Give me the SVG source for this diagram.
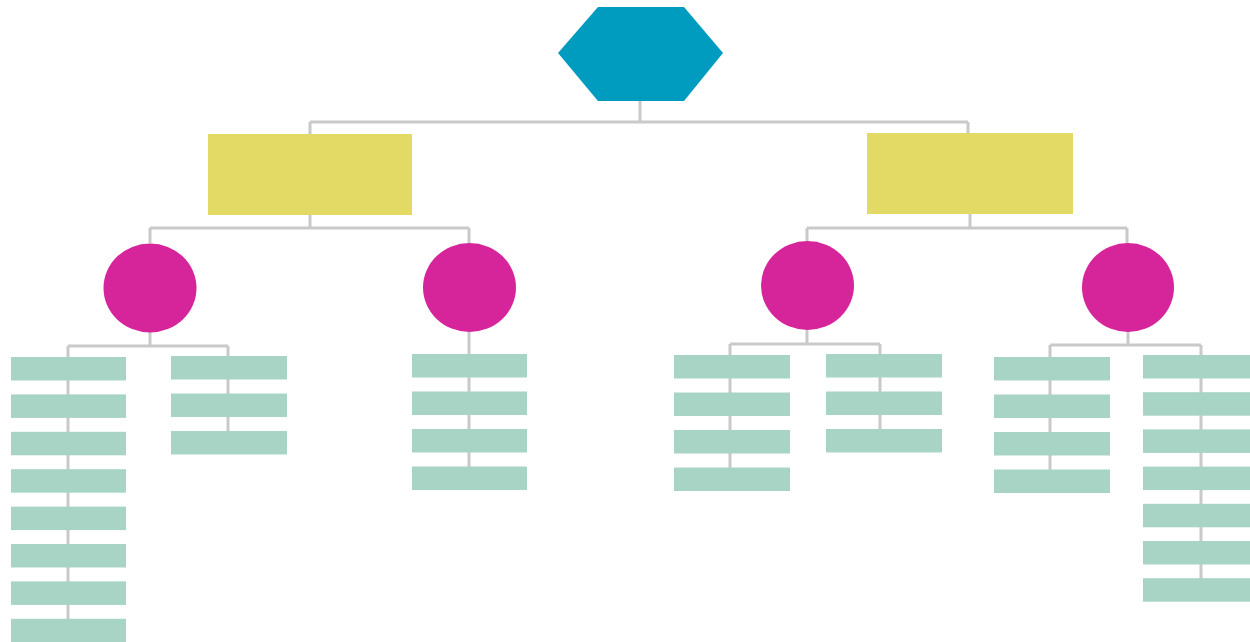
<svg xmlns="http://www.w3.org/2000/svg" width="1250" height="642" viewBox="0 0 1250 642">
<style>
.c{fill:none;stroke:#c9c9c9;stroke-width:3}
.hex{fill:#009cbf}
.y{fill:#e3da66}
.m{fill:#d6249b}
.t{fill:#a8d4c6}
</style>
<rect width="1250" height="642" fill="#ffffff"/>
<g id="connectors" class="c">
<path d="M640 101V122M310 122H968M310 122V134M968 122V134"/>
<path d="M310 215V228M150 228H469M150 228V243M469 228V243"/>
<path d="M970 214V228M807 228H1127M807 228V241M1127 228V243"/>
<path d="M150 332V346M68 346H228M68 346V620M228 346V432"/>
<path d="M469 332V467"/>
<path d="M807 330V344M730 344H880M730 344V468M880 344V430"/>
<path d="M1128 332V345M1050 345H1201M1050 345V470M1201 345V579"/>
</g>
<g id="root"><polygon class="hex" points="598,7 684,7 723,53 684,101 598,101 558,53"/></g>
<g id="branch-left"><rect class="y" x="208" y="134" width="204" height="81"/></g>
<g id="branch-right"><rect class="y" x="867" y="133" width="206" height="81"/></g>
<g id="circle-1"><ellipse class="m" cx="150" cy="288" rx="46.5" ry="44.5"/></g>
<g id="circle-2"><ellipse class="m" cx="469.5" cy="287.5" rx="46.5" ry="44.5"/></g>
<g id="circle-3"><ellipse class="m" cx="807.5" cy="285.5" rx="46.5" ry="44.5"/></g>
<g id="circle-4"><ellipse class="m" cx="1128" cy="287.5" rx="46" ry="44.5"/></g>
<g id="leaf-1a-1"><rect class="t" x="11" y="357" width="115" height="23.5"/></g>
<g id="leaf-1a-2"><rect class="t" x="11" y="394.4" width="115" height="23.5"/></g>
<g id="leaf-1a-3"><rect class="t" x="11" y="431.8" width="115" height="23.5"/></g>
<g id="leaf-1a-4"><rect class="t" x="11" y="469.2" width="115" height="23.5"/></g>
<g id="leaf-1a-5"><rect class="t" x="11" y="506.6" width="115" height="23.5"/></g>
<g id="leaf-1a-6"><rect class="t" x="11" y="544" width="115" height="23.5"/></g>
<g id="leaf-1a-7"><rect class="t" x="11" y="581.4" width="115" height="23.5"/></g>
<g id="leaf-1a-8"><rect class="t" x="11" y="618.8" width="115" height="23.5"/></g>
<g id="leaf-1b-1"><rect class="t" x="171" y="356" width="116" height="23.5"/></g>
<g id="leaf-1b-2"><rect class="t" x="171" y="393.5" width="116" height="23.5"/></g>
<g id="leaf-1b-3"><rect class="t" x="171" y="431" width="116" height="23.5"/></g>
<g id="leaf-2-1"><rect class="t" x="412" y="354" width="115" height="23.5"/></g>
<g id="leaf-2-2"><rect class="t" x="412" y="391.5" width="115" height="23.5"/></g>
<g id="leaf-2-3"><rect class="t" x="412" y="429" width="115" height="23.5"/></g>
<g id="leaf-2-4"><rect class="t" x="412" y="466.5" width="115" height="23.5"/></g>
<g id="leaf-3a-1"><rect class="t" x="674" y="355" width="116" height="23.5"/></g>
<g id="leaf-3a-2"><rect class="t" x="674" y="392.5" width="116" height="23.5"/></g>
<g id="leaf-3a-3"><rect class="t" x="674" y="430" width="116" height="23.5"/></g>
<g id="leaf-3a-4"><rect class="t" x="674" y="467.5" width="116" height="23.5"/></g>
<g id="leaf-3b-1"><rect class="t" x="826" y="354" width="116" height="23.5"/></g>
<g id="leaf-3b-2"><rect class="t" x="826" y="391.5" width="116" height="23.5"/></g>
<g id="leaf-3b-3"><rect class="t" x="826" y="429" width="116" height="23.5"/></g>
<g id="leaf-4a-1"><rect class="t" x="994" y="357" width="116" height="23.5"/></g>
<g id="leaf-4a-2"><rect class="t" x="994" y="394.5" width="116" height="23.5"/></g>
<g id="leaf-4a-3"><rect class="t" x="994" y="432" width="116" height="23.5"/></g>
<g id="leaf-4a-4"><rect class="t" x="994" y="469.5" width="116" height="23.5"/></g>
<g id="leaf-4b-1"><rect class="t" x="1143" y="355" width="116" height="23.5"/></g>
<g id="leaf-4b-2"><rect class="t" x="1143" y="392.2" width="116" height="23.5"/></g>
<g id="leaf-4b-3"><rect class="t" x="1143" y="429.4" width="116" height="23.5"/></g>
<g id="leaf-4b-4"><rect class="t" x="1143" y="466.6" width="116" height="23.5"/></g>
<g id="leaf-4b-5"><rect class="t" x="1143" y="503.8" width="116" height="23.5"/></g>
<g id="leaf-4b-6"><rect class="t" x="1143" y="541" width="116" height="23.5"/></g>
<g id="leaf-4b-7"><rect class="t" x="1143" y="578.2" width="116" height="23.5"/></g>
</svg>
